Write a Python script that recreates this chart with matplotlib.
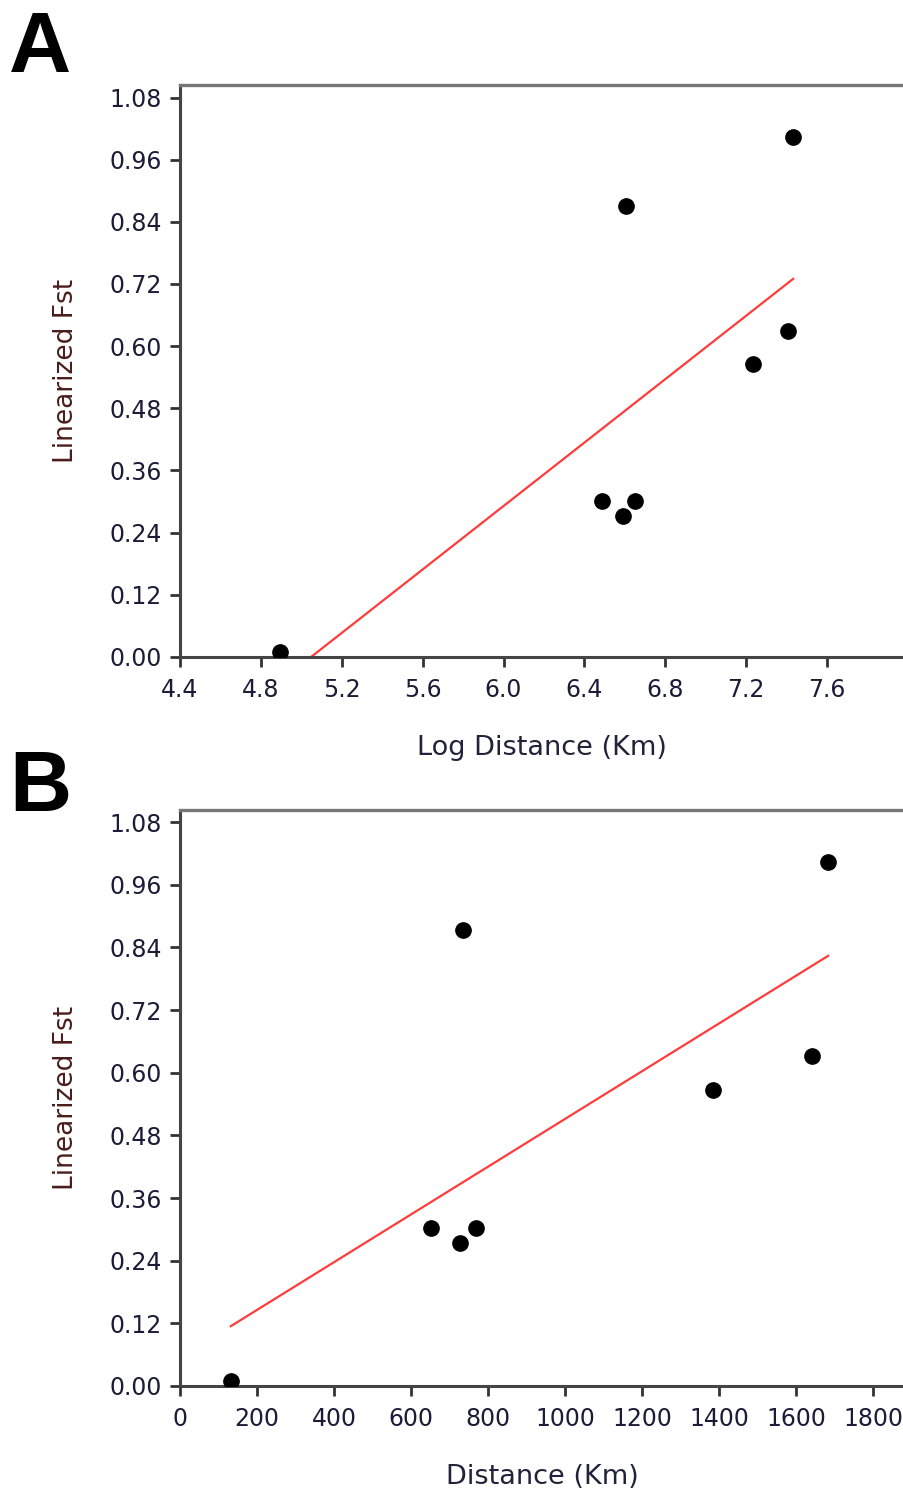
import numpy as np
import matplotlib
matplotlib.use("Agg")
import matplotlib.pyplot as plt

# panel A: log distance vs linearized Fst
log_dist = [4.895, 6.487, 6.591, 6.650, 6.605, 7.234, 7.407, 7.432]
fst_a = [0.010, 0.301, 0.272, 0.301, 0.871, 0.566, 0.630, 1.003]

# panel B: distance (km) vs linearized Fst
dist_km = [132, 652, 727, 769, 735, 1384, 1642, 1683]
fst_b = [0.010, 0.303, 0.274, 0.303, 0.873, 0.567, 0.632, 1.004]

y_ticks = [0.00, 0.12, 0.24, 0.36, 0.48, 0.60, 0.72, 0.84, 0.96, 1.08]
xticks_a = [4.4, 4.8, 5.2, 5.6, 6.0, 6.4, 6.8, 7.2, 7.6]
xticks_b = [0, 200, 400, 600, 800, 1000, 1200, 1400, 1600, 1800]

TICK_COL = "#1c1c38"
YLAB_COL = "#4a1c1c"
XLAB_COL = "#22223a"


def panel(ax, x, y, xticks, xlim, xlabel, fmt):
    x = np.asarray(x, float); y = np.asarray(y, float)
    slope, icpt = np.polyfit(x, y, 1)
    xs = np.array([x.min(), x.max()])
    ax.plot(xs, slope * xs + icpt, color="#ff3b3b", lw=1.6, zorder=2)
    ax.plot(x, y, "o", color="black", ms=11, zorder=3, clip_on=True)
    ax.set_xlim(*xlim)
    ax.set_ylim(0, 1.104)
    ax.set_yticks(y_ticks)
    ax.set_yticklabels([f"{v:.2f}" for v in y_ticks])
    ax.set_xticks(xticks)
    ax.set_xticklabels([fmt(v) for v in xticks])
    for s in ("left", "bottom"):
        ax.spines[s].set_color("#444444")
        ax.spines[s].set_linewidth(2.2)
    ax.spines["top"].set_color("#777777")
    ax.spines["top"].set_linewidth(2.4)
    ax.spines["right"].set_color("#999999")
    ax.spines["right"].set_linewidth(1.0)
    ax.tick_params(direction="out", length=7, width=2, color="#333333",
                   labelsize=17, labelcolor=TICK_COL, pad=6)
    ax.tick_params(axis="x", pad=8)
    ax.set_ylabel("Linearized Fst", fontsize=19, color=YLAB_COL, labelpad=22)
    ax.set_xlabel(xlabel, fontsize=19.5, color=XLAB_COL, labelpad=24)


fig = plt.figure(figsize=(9.04, 14.93), dpi=100)
ax_a = fig.add_axes([0.199, 0.560, 0.801, 0.383])
ax_b = fig.add_axes([0.199, 0.0717, 0.801, 0.386])

panel(ax_a, log_dist, fst_a, xticks_a, (4.4, 7.98), "Log Distance (Km)",
      lambda v: f"{v:.1f}")
panel(ax_b, dist_km, fst_b, xticks_b, (0, 1880), "Distance (Km)",
      lambda v: f"{v:d}")

fig.text(0.010, 0.993, "A", fontsize=62, fontweight="bold",
         family="Liberation Sans", va="top", ha="left")
fig.text(0.010, 0.498, "B", fontsize=62, fontweight="bold",
         family="Liberation Sans", va="top", ha="left")

fig.savefig("out.png", dpi=100)
